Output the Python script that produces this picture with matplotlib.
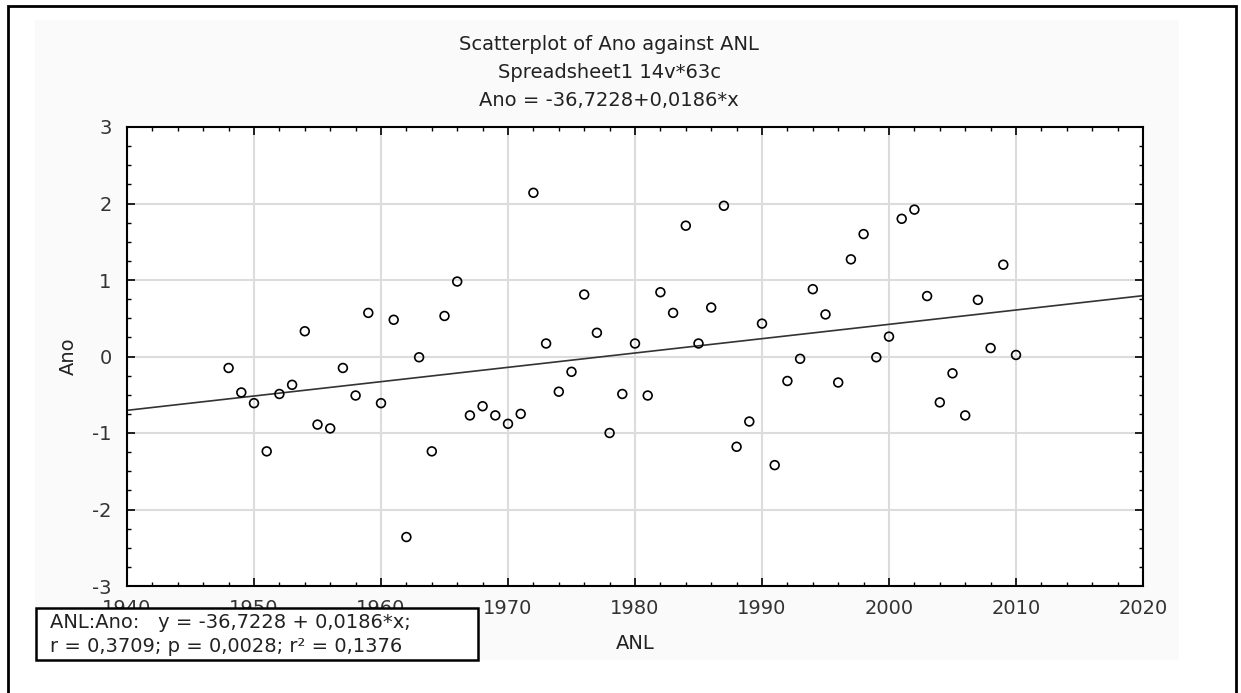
import numpy as np
import matplotlib
matplotlib.use("Agg")
import matplotlib.pyplot as plt
from matplotlib.patches import Rectangle
from matplotlib.ticker import MultipleLocator

# data
years = list(range(1948, 2011))
ano = [-0.15, -0.47, -0.61, -1.24, -0.49, -0.37, 0.33, -0.89, -0.94, -0.15,
       -0.51, 0.57, -0.61, 0.48, -2.36, -0.01, -1.24, 0.53, 0.98, -0.77,
       -0.65, -0.77, -0.88, -0.75, 2.14, 0.17, -0.46, -0.20, 0.81, 0.31,
       -1.00, -0.49, 0.17, -0.51, 0.84, 0.57, 1.71, 0.17, 0.64, 1.97,
       -1.18, -0.85, 0.43, -1.42, -0.32, -0.03, 0.88, 0.55, -0.34, 1.27,
       1.60, -0.01, 0.26, 1.80, 1.92, 0.79, -0.60, -0.22, -0.77, 0.74,
       0.11, 1.20, 0.02]

title_lines = ["Scatterplot of Ano against ANL",
               "Spreadsheet1 14v*63c",
               "Ano = -36,7228+0,0186*x"]
stats_lines = ["ANL:Ano:   y = -36,7228 + 0,0186*x;",
               "r = 0,3709; p = 0,0028; r\u00b2 = 0,1376"]

W, H = 1241, 693
FS = 14
plt.rcParams['font.family'] = ['DejaVu Sans']
plt.rcParams['axes.unicode_minus'] = False
fig = plt.figure(figsize=(W / 100, H / 100), dpi=100)

def px(x, y):
    return x / W, 1 - y / H

# outer frame and grey panel (behind everything)
fig.patches.append(Rectangle(px(8, 700), 1228 / W, 694 / H, transform=fig.transFigure,
                             fill=False, edgecolor='black', linewidth=2, zorder=-3))
fig.patches.append(Rectangle(px(35, 660), (1179 - 35) / W, 640 / H, transform=fig.transFigure,
                             facecolor='#fafafa', edgecolor='none', zorder=-2))

l, b = px(127, 586)
ax = fig.add_axes([l, b, (1143 - 127) / W, (586 - 127) / H])
ax.set_zorder(1)
ax.set_facecolor('white')

ax.grid(True, color='#dcdcdc', linewidth=1.5, zorder=0)
ax.set_axisbelow(True)
ax.scatter(years, ano, s=40, facecolors='none', edgecolors='black', linewidths=1.2, zorder=3)

slope, icpt = np.polyfit(years, ano, 1)
xl = np.array([1940, 2020])
ax.plot(xl, icpt + slope * xl, color='#333333', linewidth=1.2, zorder=2)

ax.set_xlim(1940, 2020)
ax.set_ylim(-3, 3)
ax.xaxis.set_major_locator(MultipleLocator(10))
ax.xaxis.set_minor_locator(MultipleLocator(2))
ax.yaxis.set_major_locator(MultipleLocator(1))
ax.yaxis.set_minor_locator(MultipleLocator(0.25))
ax.tick_params(which='both', direction='in', top=True, right=True, color='black')
ax.tick_params(which='major', length=6, width=1.2, labelsize=FS, labelcolor='#333333')
ax.tick_params(which='minor', length=3, width=1)
ax.tick_params(axis='x', pad=9)
ax.tick_params(axis='y', pad=11)
for s in ax.spines.values():
    s.set_linewidth(1.5)

ax.set_xlabel("ANL", fontsize=FS, color='#222222', labelpad=12)
ax.set_ylabel("Ano", fontsize=FS, color='#222222', labelpad=10)

for i, t in enumerate(title_lines):
    fig.text(609 / W, 1 - (44 + 28 * i) / H, t, ha='center', va='center',
             fontsize=FS, color='#222222')

# stats box over the lower left tick labels
fig.patches.append(Rectangle(px(36, 660), (478 - 36) / W, (660 - 608) / H, transform=fig.transFigure,
                             facecolor='white', edgecolor='black', linewidth=1.8, zorder=5))
for i, t in enumerate(stats_lines):
    fig.text(50 / W, 1 - (623 + 24 * i) / H, t, ha='left', va='center',
             fontsize=FS, color='#222222', zorder=6)

fig.savefig("out.png", dpi=100)
